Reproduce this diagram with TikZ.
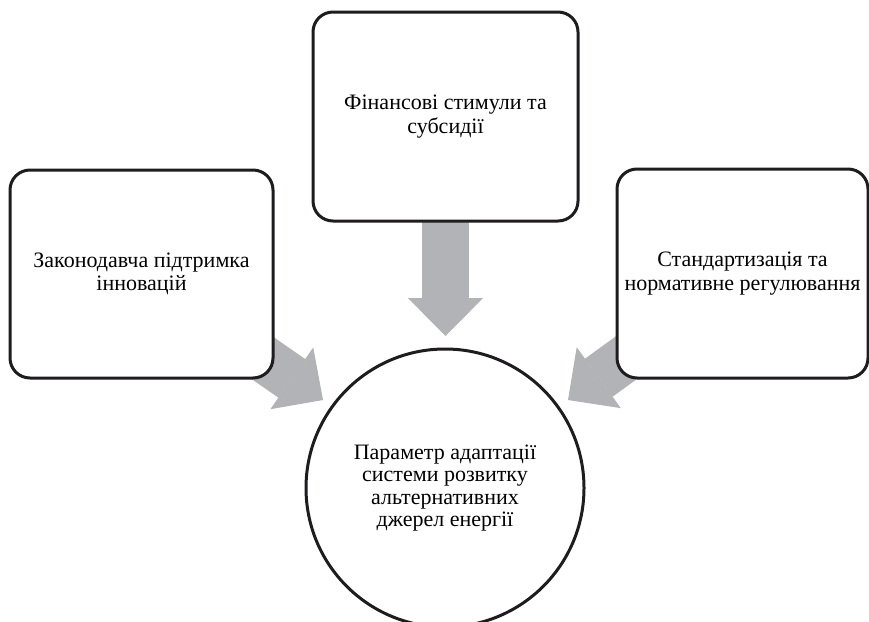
\documentclass[tikz,border=0pt]{standalone}
\usepackage{fontspec}
\setmainfont{Liberation Serif}
\usetikzlibrary{arrows.meta}
\definecolor{arrgray}{RGB}{178,179,183}
\definecolor{linecol}{RGB}{30,28,30}
\begin{document}
\begin{tikzpicture}[x=1pt,y=-1pt,
  box/.style={draw=linecol, line width=3pt, rounded corners=20pt, fill=white,
    align=center, inner sep=0pt, font=\fontsize{22}{23.5}\selectfont},
  ring/.style={draw=linecol, line width=3pt, circle, fill=white,
    align=center, inner sep=0pt, font=\fontsize{22}{22.5}\selectfont},
  bigarrow/.style={draw=arrgray, line width=47pt,
    -{Triangle[length=38pt,width=75pt,line width=1pt]}}
]
\useasboundingbox (0,0) rectangle (869,621);
\clip (0,0) rectangle (869,621);
% tips of arrows
\coordinate (ltip) at (323,400);
\coordinate (ttip) at (445.5,336);
\coordinate (rtip) at (568,400);
\coordinate (lstart) at (141.5,274);
\coordinate (tstart) at (445.5,116.5);
\coordinate (rstart) at (742.5,273.5);
% arrows (behind boxes)
\draw[bigarrow] (lstart) -- (ltip);
\draw[bigarrow] (tstart) -- (ttip);
\draw[bigarrow] (rstart) -- (rtip);
% boxes
\node[box, minimum width=263pt, minimum height=208pt] (lbox) at (lstart)
  {Законодавча підтримка\\інновацій};
\node[box, minimum width=265pt, minimum height=209pt] (tbox) at (tstart)
  {Фінансові стимули та\\субсидії};
\node[box, minimum width=251pt, minimum height=209pt] (rbox) at (rstart)
  {Стандартизація та\\нормативне регулювання};
% circle
\node[ring, minimum size=278pt] (goal) at (445,488)
  {Параметр адаптації\\системи розвитку\\альтернативних\\джерел енергії};
\end{tikzpicture}
\end{document}
